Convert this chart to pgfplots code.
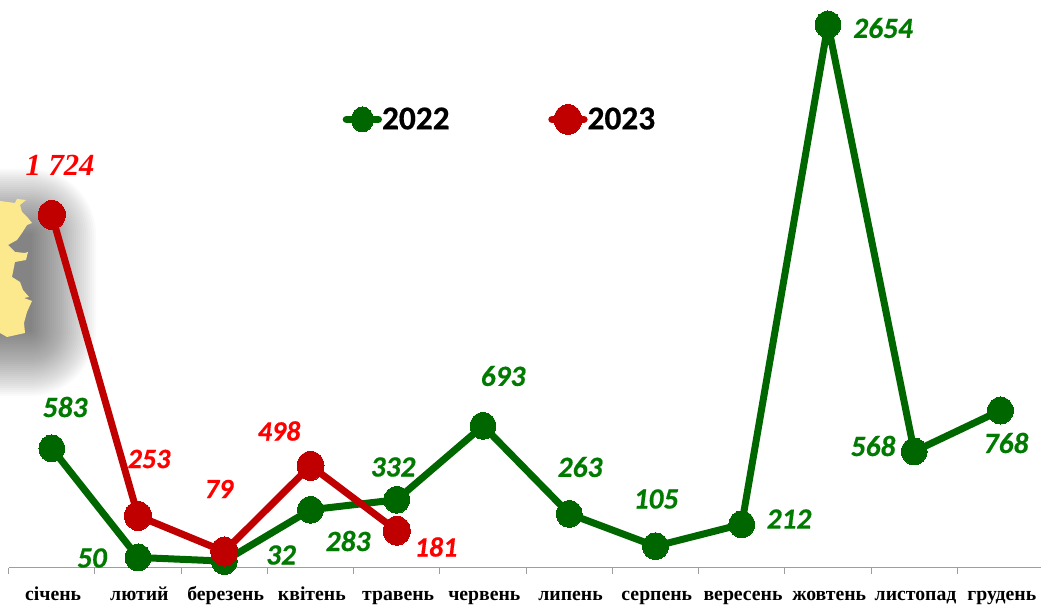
\documentclass[border=0pt]{standalone}
\usepackage{fontspec}
\setmainfont{Carlito}[BoldFeatures={FakeBold=0.5},BoldItalicFeatures={FakeBold=0.5}]
\newfontfamily\serifb{Liberation Serif}
\usepackage{pgfplots}
\pgfplotsset{compat=1.18}
\definecolor{gline}{HTML}{006600}
\definecolor{glabel}{HTML}{007A00}
\definecolor{rline}{HTML}{C00000}
\definecolor{rlabel}{HTML}{FF0000}
\definecolor{mapy}{HTML}{FDE98D}
\newcommand{\mapshape}{(-20,196) -- (0,201) -- (15,203) -- (17,199) -- (26,200) -- (20,205) -- (22,212) -- (28,218) -- (32,223) -- (27,225) -- (22,233) -- (17,240) -- (8,245) -- (15,252) -- (25,253) -- (28,252) -- (26,260) -- (15,262) -- (12,277) -- (20,282) -- (23,290) -- (29,297) -- (24,298) -- (32,301) -- (27,312) -- (24,323) -- (25,333) -- (7,337) -- (0,333) -- (-20,333) -- cycle}
\begin{document}
\begin{tikzpicture}
\useasboundingbox (0,0) rectangle (780.75pt,453.75pt);
\begin{scope}[x=0.75pt,y=-0.75pt,shift={(0pt,453.75pt)}]
  \clip (0,0) rectangle (1041,605);
  \foreach \r in {2,4,...,66}{
    \fill[black,opacity=0.021,rounded corners=\r*0.75pt] (-120,235-\r) rectangle (30+\r,330+\r);
  }
  \fill[mapy] \mapshape;
\end{scope}
\begin{axis}[
  at={(6.525pt,27.975pt)},anchor=south west,
  scale only axis,width=774.2pt,height=422pt,
  xmin=-0.5,xmax=11.47,ymin=0,ymax=2749,
  clip=false,
  axis y line=none,axis x line=bottom,
  axis line style={-,draw=black!38,line width=0.8pt},
  xtick={0,...,11},
  xticklabels={січень,лютий,березень,квітень,травень,червень,липень,серпень,вересень,жовтень,листопад,грудень},
  major tick length=0pt,
  minor xtick={-0.5,0.5,...,10.5},
  minor tick length=5pt,
  tick align=outside,
  every tick/.style={draw=black!38,line width=0.8pt},
  xticklabel style={font=\serifb\bfseries\fontsize{14.8}{14.8}\selectfont,text=black,anchor=base,yshift=-24.5pt,xshift=1pt},
  legend style={draw=none,fill=none,at={(250.5pt,336.2pt)},anchor=west,legend columns=2,
    inner sep=0pt,outer sep=0pt,
    nodes={inner sep=0pt,font=\bfseries\fontsize{25}{25}\selectfont},
    /tikz/every odd column/.style={column sep=0pt},
    /tikz/every even column/.style={column sep=74pt},
    },
  legend image code/.code={\draw[mark repeat=2,mark phase=2,#1] plot coordinates {(0pt,0pt)(12pt,0pt)(24pt,0pt)};},
]
\addplot[gline,line width=5.25pt,line join=round,mark=*,mark size=9.65pt,mark options={fill=gline,draw=gline,line width=0pt,yscale=1.05},
  legend image post style={line width=5.5pt,line cap=round,mark size=8.2pt,mark options={fill=gline,draw=gline,line width=0pt,yscale=1.15}}]
  coordinates {(0,583)(1,50)(2,32)(3,283)(4,332)(5,693)(6,263)(7,105)(8,212)(9,2654)(10,568)(11,768)};
\addlegendentry{2022}
\addplot[rline,line width=5.25pt,line join=round,mark=*,mark size=10.1pt,mark options={fill=rline,draw=rline,line width=0pt,yscale=1.08},
  legend image post style={line width=5.5pt,line cap=round,mark size=10.4pt,mark options={fill=rline,draw=rline,line width=0pt,yscale=1.07}}]
  coordinates {(0,1724)(1,253)(2,79)(3,498)(4,181)};
\addlegendentry{2023}
\end{axis}
\begin{scope}[x=0.75pt,y=-0.75pt,shift={(0pt,453.75pt)},
  gl/.style={text=glabel,font=\bfseries\itshape\fontsize{22}{22}\selectfont,inner sep=0pt},
  rl/.style={text=rlabel,font=\bfseries\itshape\fontsize{21}{21}\selectfont,inner sep=0pt}]
  \node[gl] at (65,407) {583};
  \node[gl] at (92,558) {50};
  \node[gl] at (281,555) {32};
  \node[gl] at (348,541) {283};
  \node[gl] at (393,467) {332};
  \node[gl] at (503,376) {693};
  \node[gl] at (580,467) {263};
  \node[gl] at (656,499) {105};
  \node[gl] at (789,519) {212};
  \node[gl] at (883,28) {2654};
  \node[gl] at (873,446) {568};
  \node[gl] at (1006,443) {768};
  \node[rl] at (149,459) {253};
  \node[rl] at (219,489) {79};
  \node[rl] at (279,431) {498};
  \node[rl] at (436,547) {181};
  \node[text=rlabel,inner sep=0pt,font=\serifb\bfseries\itshape\fontsize{23}{23}\selectfont] at (60,165) {1 724};
\end{scope}
\end{tikzpicture}
\end{document}
